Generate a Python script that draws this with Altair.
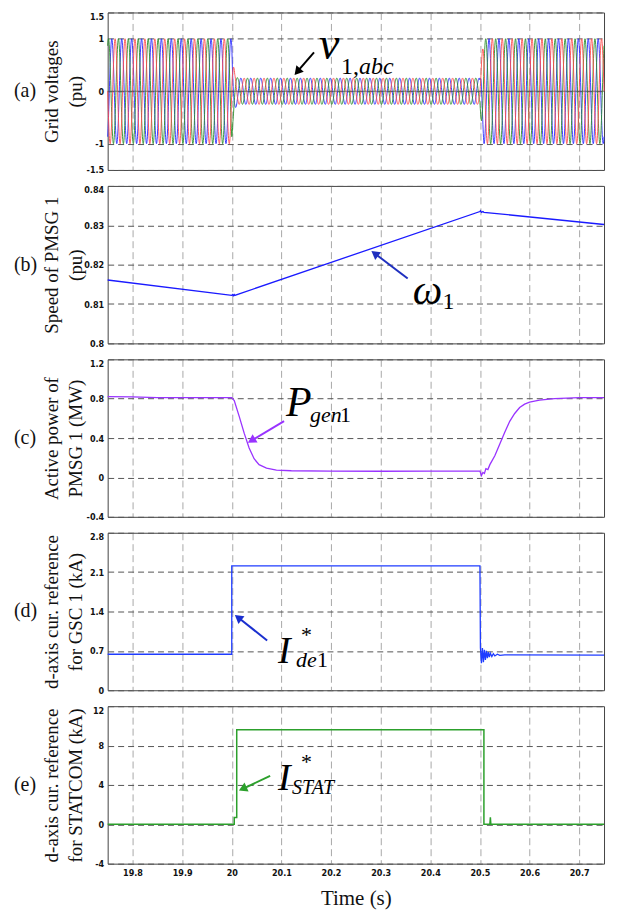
import math
import altair as alt
import numpy as np
import pandas as pd

# ---------------- data ----------------
X_MIN, X_MAX = 19.75, 20.75
X_TICKS = [19.8, 19.9, 20.0, 20.1, 20.2, 20.3, 20.4, 20.5, 20.6, 20.7]

# (a) grid voltages: three-phase 50 Hz waves with the amplitude envelope
VOLT_FREQ = 50.0
VOLT_ENV_T = [19.75, 20.0, 20.002, 20.006, 20.012, 20.5, 20.503, 20.508, 20.75]
VOLT_ENV_A = [1.0, 1.0, 0.62, 0.34, 0.25, 0.25, 0.62, 1.0, 1.0]
VOLT_PHASES = ["c", "b", "a"]
VOLT_SHIFT_DEG = [120, -120, 0]
A_TICKS = [-1.5, -1, 0, 1, 1.5]

# (b) speed of PMSG 1
SPEED_T = [19.75, 20.0, 20.002, 20.003, 20.005, 20.006, 20.5, 20.501, 20.503, 20.506, 20.508, 20.75]
SPEED_V = [0.8161, 0.8122, 0.8124, 0.8121, 0.8124, 0.8122, 0.8335, 0.8337, 0.8333, 0.8335, 0.8333, 0.8302]
B_TICKS = [0.8, 0.81, 0.82, 0.83, 0.84]

# (c) active power of PMSG 1
POWER_T = [19.75, 19.8, 19.85, 19.9, 20.0, 20.005, 20.015, 20.025, 20.035, 20.045, 20.055, 20.07,
           20.09, 20.12, 20.2, 20.3, 20.4, 20.5, 20.503, 20.506, 20.509, 20.512, 20.516, 20.52,
           20.53, 20.54, 20.55, 20.56, 20.57, 20.58, 20.59, 20.6, 20.62, 20.65, 20.7, 20.75]
POWER_V = [0.822, 0.818, 0.812, 0.812, 0.812, 0.78, 0.62, 0.45, 0.3, 0.19, 0.13, 0.095,
           0.075, 0.068, 0.065, 0.063, 0.064, 0.065, 0.02, 0.05, 0.04, 0.09, 0.08, 0.13,
           0.22, 0.34, 0.46, 0.57, 0.65, 0.71, 0.745, 0.765, 0.785, 0.8, 0.81, 0.812]
C_TICKS = [-0.4, 0, 0.4, 0.8, 1.2]

# (d) d-axis current reference for GSC 1
IDE_T = [19.75, 20.0, 20.0, 20.5, 20.501, 20.503, 20.505, 20.507, 20.509, 20.511, 20.513, 20.515,
         20.517, 20.519, 20.521, 20.524, 20.527, 20.53, 20.535, 20.54, 20.55, 20.75]
IDE_V = [0.64, 0.64, 2.21, 2.21, 0.75, 0.48, 0.75, 0.5, 0.72, 0.54, 0.7, 0.57,
         0.68, 0.59, 0.66, 0.6, 0.65, 0.61, 0.64, 0.62, 0.63, 0.625]
D_TICKS = [0, 0.7, 1.4, 2.1, 2.8]

# (e) d-axis current reference for STATCOM
STAT_T = [19.75, 20.005, 20.005, 20.01, 20.01, 20.508, 20.508, 20.52, 20.521, 20.522, 20.75]
STAT_V = [0.0, 0.0, 0.7, 0.7, 9.6, 9.6, 0.0, 0.0, 0.7, 0.0, 0.0]
E_TICKS = [-4, 0, 4, 8, 12]

# ---------------- styling ----------------
W, H = 498, 158
SERIF = "Liberation Serif, Times New Roman, serif"
LABEL_FONT = "Liberation Sans Narrow, DejaVu Sans Condensed, Liberation Sans, Arial"
PHASE_COLORS = ["#2a2aff", "#2e8f2e", "#ff4d4d"]

XS = alt.Scale(domain=[X_MIN, X_MAX], nice=False, zero=False)


def yscale(ticks):
    return alt.Scale(domain=[min(ticks), max(ticks)], nice=False, zero=False)


def yaxis(ticks, lines):
    ymax = max(ticks)
    return alt.Axis(
        values=ticks, title=lines, ticks=False, domain=False, grid=True,
        gridDash=[6, 4], gridColor="#555555", gridWidth=1,
        labelExpr="'' + datum.value",
        labelBaseline={"condition": {"test": f"datum.value == {ymax}", "value": "top"}, "value": "middle"},
        labelFont=LABEL_FONT, labelFontSize=9, labelFontWeight="bold", labelColor="#111111",
        labelPadding=4,
        titleFont=SERIF, titleFontSize=19, titleFontWeight="normal", titleColor="#111111",
        titleAngle=270, titleAlign="center", titleBaseline="middle",
        titleX=-56, titleY=H / 2, titleLineHeight=24,
    )


def xaxis(bottom):
    common = dict(values=X_TICKS, ticks=False, domain=False, grid=True,
                  gridDash=[7, 4], gridColor="#a8a8a8", gridWidth=1)
    if not bottom:
        return alt.Axis(labels=False, title=None, **common)
    return alt.Axis(
        title="Time (s)", labelExpr="'' + datum.value",
        labelFont=LABEL_FONT, labelFontSize=9, labelFontWeight="bold", labelColor="#111111",
        labelPadding=5,
        titleFont=SERIF, titleFontSize=21, titleFontWeight="normal", titleColor="#111111",
        titlePadding=10, **common)


def to_px(t, v, ticks):
    lo, hi = min(ticks), max(ticks)
    return (t - X_MIN) / (X_MAX - X_MIN) * W, (hi - v) / (hi - lo) * H


def from_px(px, py, ticks):
    lo, hi = min(ticks), max(ticks)
    return X_MIN + px / W * (X_MAX - X_MIN), hi - py / H * (hi - lo)


class Panel:
    def __init__(self, ticks, title_lines, bottom=False):
        self.ticks = ticks
        self.xa = xaxis(bottom)
        self.ya = yaxis(ticks, title_lines)
        self.ys = yscale(ticks)
        self.layers = []

    def enc(self):
        return dict(x=alt.X("t:Q", scale=XS, axis=self.xa),
                    y=alt.Y("v:Q", scale=self.ys, axis=self.ya))

    def line(self, ts, vs, color, width):
        self.layers.append(alt.Chart(pd.DataFrame({"t": ts, "v": vs})).mark_line(
            color=color, strokeWidth=width).encode(**self.enc()))

    def arrow(self, tail, tip, color):
        x0, y0 = to_px(*tail, self.ticks)
        x1, y1 = to_px(*tip, self.ticks)
        d = math.hypot(x1 - x0, y1 - y0)
        ux, uy = (x1 - x0) / d, (y1 - y0) / d
        hx, hy = x1 - ux * 5.0, y1 - uy * 5.0
        ang = math.degrees(math.atan2(ux, -uy)) % 360
        ht, hv = from_px(hx, hy, self.ticks)
        self.layers.append(alt.Chart(pd.DataFrame(
            {"t": [tail[0]], "v": [tail[1]], "t2": [ht], "v2": [hv]})).mark_rule(
            color=color, strokeWidth=2).encode(x2="t2:Q", y2="v2:Q", **self.enc()))
        self.layers.append(alt.Chart(pd.DataFrame({"t": [ht], "v": [hv]})).mark_point(
            shape="triangle-up", filled=True, size=95, color=color, opacity=1, angle=ang,
            strokeWidth=0).encode(**self.enc()))

    def text(self, t, v, s, size, italic, dx=0, dy=0, color="#000000"):
        self.layers.append(alt.Chart(pd.DataFrame({"t": [t], "v": [v], "s": [s]})).mark_text(
            align="left", baseline="alphabetic", font=SERIF, fontSize=size,
            fontStyle="italic" if italic else "normal", color=color, dx=dx, dy=dy).encode(
            text="s:N", **self.enc()))

    def build(self, letter):
        lab = alt.Chart(pd.DataFrame({"s": [letter]})).mark_text(
            align="left", baseline="middle", font=SERIF, fontSize=20, color="#111111").encode(
            x=alt.value(-94), y=alt.value(H / 2), text="s:N")
        return alt.layer(*self.layers, lab).properties(width=W, height=H)


# ---------------- (a) ----------------
dt = 0.0004
t_arr = np.arange(X_MIN, X_MAX + dt / 2, dt)
env = np.interp(t_arr, VOLT_ENV_T, VOLT_ENV_A)
rows = []
for ph, sh in zip(VOLT_PHASES, VOLT_SHIFT_DEG):
    vals = env * np.sin(2 * np.pi * VOLT_FREQ * t_arr + np.radians(sh))
    rows.append(pd.DataFrame({"t": t_arr, "v": vals, "phase": ph}))
volt_df = pd.concat(rows, ignore_index=True)

A = Panel(A_TICKS, ["Grid voltages", "(pu)"])
A.layers.append(alt.Chart(volt_df).mark_line(strokeWidth=1, opacity=0.9).encode(
    color=alt.Color("phase:N", scale=alt.Scale(domain=VOLT_PHASES, range=PHASE_COLORS), legend=None),
    detail="phase:N", **A.enc()))
A.layers.append(alt.Chart(pd.DataFrame({"v": [0.0]})).mark_rule(
    color="#555555", strokeWidth=1, opacity=0.8).encode(y=alt.Y("v:Q", scale=A.ys, axis=A.ya)))
A.arrow((20.1657, 0.74), (20.1255, 0.30), "#000000")
A.text(20.176, 0.62, "v", 46, True)
A.text(20.176, 0.62, "1,", 24, False, dx=22, dy=15)
A.text(20.176, 0.62, "abc", 24, True, dx=40, dy=15)
pa = A.build("(a)")

# ---------------- (b) ----------------
B = Panel(B_TICKS, ["Speed of PMSG 1", "(pu)"])
B.line(SPEED_T, SPEED_V, "#1a1aff", 1.3)
B.arrow((20.3544, 0.8165), (20.2801, 0.8236), "#1f2fbf")
B.text(20.3645, 0.81, "ω", 42, True)
B.text(20.3645, 0.81, "1", 24, False, dx=30, dy=5)
pb = B.build("(b)")

# ---------------- (c) ----------------
C = Panel(C_TICKS, ["Active power of", "PMSG 1 (MW)"])
C.line(POWER_T, POWER_V, "#9933ff", 1.3)
C.arrow((20.1054, 0.572), (20.0311, 0.349), "#9933ff")
C.text(20.1094, 0.623, "P", 42, True)
C.text(20.1094, 0.623, "gen", 22, True, dx=24, dy=6)
C.text(20.1094, 0.623, "1", 22, False, dx=54, dy=6)
pc = C.build("(c)")

# ---------------- (d) ----------------
D = Panel(D_TICKS, ["d-axis cur. reference", "for GSC 1 (kA)"])
D.line(IDE_T, IDE_V, "#1f3cff", 1.3)
D.arrow((20.0713, 0.886), (20.005, 1.347), "#1a2fcf")
D.text(20.0934, 0.478, "I", 38, True)
D.text(20.0934, 0.478, "*", 22, False, dx=23, dy=-21)
D.text(20.0934, 0.478, "de", 22, True, dx=18, dy=4)
D.text(20.0934, 0.478, "1", 22, False, dx=39, dy=4)
pd_ = D.build("(d)")

# ---------------- (e) ----------------
E = Panel(E_TICKS, ["d-axis cur. reference", "for STATCOM (kA)"], bottom=True)
E.line(STAT_T, STAT_V, "#2ca02c", 1.5)
E.arrow((20.0773, 4.911), (20.013, 3.392), "#2ca02c")
E.text(20.0934, 3.49, "I", 38, True)
E.text(20.0934, 3.49, "*", 22, False, dx=23, dy=-21)
E.text(20.0934, 3.49, "STAT", 20, True, dx=14, dy=4)
pe = E.build("(e)")

chart = alt.vconcat(pa, pb, pc, pd_, pe, spacing=16, bounds="flush").properties(
    padding={"left": 5, "top": 2, "right": 5, "bottom": 5},
    background="white",
).configure_view(stroke="#444444", strokeWidth=1)

chart.save("out.html", embed_options={"renderer": "svg", "actions": False})
